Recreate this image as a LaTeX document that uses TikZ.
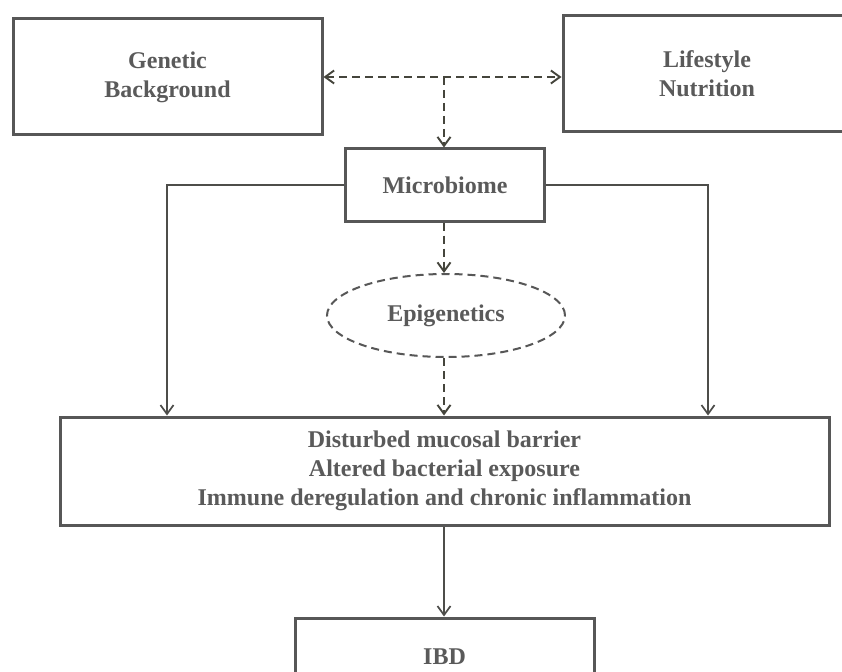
\documentclass[tikz,border=0pt]{standalone}
\usepackage{fontspec}
\setmainfont{Liberation Serif}
\usetikzlibrary{shapes.geometric,arrows.meta}
\definecolor{boxc}{HTML}{575757}
\definecolor{linec}{HTML}{4D4D4A}
\definecolor{dlinec}{HTML}{45453C}
\definecolor{txtc}{HTML}{5A5A5A}
\begin{document}
\begin{tikzpicture}[x=1pt,y=-1pt,
  >={Straight Barb[length=9pt,width=13pt]},
  labelfont/.style={text=txtc, font=\fontsize{24}{29}\selectfont\bfseries},
  box/.style={draw=boxc, line width=3pt, rectangle, inner sep=0pt, labelfont, align=center},
  conn/.style={draw=linec, line width=1.7pt},
  dconn/.style={draw=dlinec, line width=1.9pt, dash pattern=on 8pt off 5pt}]
\useasboundingbox (0,0) rectangle (842,671);
\clip (0,0) rectangle (842,671);
\fill[white] (0,0) rectangle (842,671);

\node[box, minimum width=309pt, minimum height=116pt] (gen) at (167.5,77) {Genetic\\Background};
\node[box, minimum width=288pt, minimum height=116pt] (life) at (707,74) {Lifestyle\\Nutrition};
\node[box, minimum width=199pt, minimum height=72pt] (mic) at (445,185) {Microbiome};
\node[ellipse, draw=boxc, line width=2pt, dash pattern=on 8pt off 5pt, minimum width=238pt, minimum height=83pt, inner sep=0pt, labelfont] (epi) at (446,315.5) {Epigenetics};
\node[box, minimum width=769pt, minimum height=108pt] (dis) at (444.5,471) {Disturbed mucosal barrier\\Altered bacterial exposure\\Immune deregulation and chronic inflammation};
\node[box, minimum width=299pt, minimum height=78pt] (ibd) at (444.5,657) {IBD};

\coordinate (j) at (444,77);
\coordinate (dl) at (167,0);
\coordinate (dr) at (708,0);

\draw[dconn, <->] (gen.east) -- (gen.east -| life.west);
\draw[dconn, ->] (j) -- (mic.north -| j);
\draw[dconn, ->] (mic.south -| j) -- (epi.north -| j);
\draw[dconn, ->] (epi.south -| j) -- (dis.north -| j);
\draw[conn, ->] (dis.south -| j) -- (ibd.north -| j);
\draw[conn, ->] (mic.west) -| (dis.north -| dl);
\draw[conn, ->] (mic.east) -| (dis.north -| dr);
\end{tikzpicture}
\end{document}
